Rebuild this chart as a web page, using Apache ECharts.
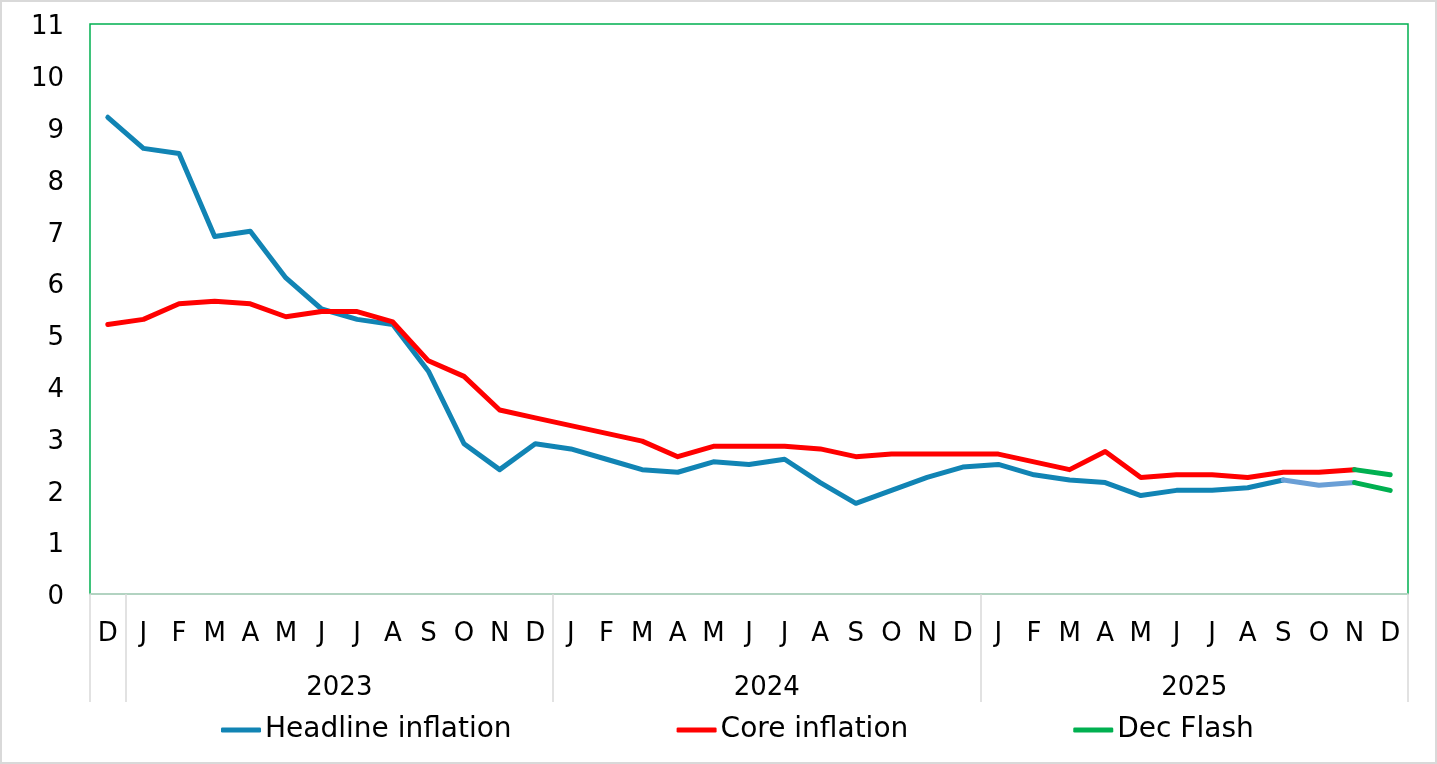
<!DOCTYPE html>
<html>
<head>
<meta charset="utf-8">
<script src="https://cdn.jsdelivr.net/npm/echarts@6/dist/echarts.min.js"></script>
<style>
html,body{margin:0;padding:0;background:#fff;}
#wrap{position:absolute;left:0;top:0;width:1437px;height:764px;box-sizing:border-box;border:2px solid #D9D9D9;}
#chart{position:absolute;left:0;top:0;width:1437px;height:764px;}
</style>
</head>
<body>
<div id="chart"></div>
<div id="wrap"></div>
<script>
// Category labels (Dec 2022 .. Dec 2025)
const months = ['D','J','F','M','A','M','J','J','A','S','O','N','D',
                'J','F','M','A','M','J','J','A','S','O','N','D',
                'J','F','M','A','M','J','J','A','S','O','N','D'];
const yearLabels = ['', '2023', '2024', '2025'];
const yearMonthCounts = [1, 12, 12, 12];

// Headline inflation (Dec 2022 .. Nov 2025)
const headline = [9.2, 8.6, 8.5, 6.9, 7.0, 6.1, 5.5, 5.3, 5.2, 4.3, 2.9, 2.4, 2.9,
                  2.8, 2.6, 2.4, 2.35, 2.55, 2.5, 2.6, 2.15, 1.75, 2.0, 2.25, 2.45,
                  2.5, 2.3, 2.2, 2.15, 1.9, 2.0, 2.0, 2.05, 2.2, 2.1, 2.15];
// Core inflation (Dec 2022 .. Nov 2025)
const core = [5.2, 5.3, 5.6, 5.65, 5.6, 5.35, 5.45, 5.45, 5.25, 4.5, 4.2, 3.55, 3.4,
              3.25, 3.1, 2.95, 2.65, 2.85, 2.85, 2.85, 2.8, 2.65, 2.7, 2.7, 2.7,
              2.7, 2.55, 2.4, 2.75, 2.25, 2.3, 2.3, 2.25, 2.35, 2.35, 2.4];
// Dec 2025 flash estimates
const flashHeadline = 2.0;
const flashCore = 2.3;
// Index where the headline line changes to the lighter shade (Sep 2025)
const lightStartIndex = 33;

const yTicks = [0,1,2,3,4,5,6,7,8,9,10,11];

const FONT = 'DejaVu Sans';
const FS = 26;
const n = months.length;
const lastIdx = headline.length - 1;

const headMain = headline.map((v, i) => i <= lightStartIndex ? v : null);
const headLight = headline.map((v, i) => i >= lightStartIndex ? v : null);
const flashH = months.map((_, i) => i === lastIdx ? headline[lastIdx] : (i === lastIdx + 1 ? flashHeadline : null));
const flashC = months.map((_, i) => i === lastIdx ? core[lastIdx] : (i === lastIdx + 1 ? flashCore : null));

// Year group boundaries and centers on a 0..n value scale
const bounds = [0];
yearMonthCounts.forEach(c => bounds.push(bounds[bounds.length - 1] + c));
const centers = [];
const centerLabel = {};
yearLabels.forEach((lab, i) => {
  if (lab) { const c = (bounds[i] + bounds[i + 1]) / 2; centers.push(c); centerLabel[c] = lab; }
});

const chart = echarts.init(document.getElementById('chart'), null, {renderer: 'canvas'});
const lw = 5;
chart.setOption({
  animation: false,
  backgroundColor: '#fff',
  textStyle: {fontFamily: FONT},
  grid: {left: 90, right: 29, top: 24, bottom: 170, show: true, borderColor: '#00B050', borderWidth: 1.5, containLabel: false},
  legend: {
    bottom: 15, left: 216,
    itemGap: 165,
    itemWidth: 40, itemHeight: 5,
    icon: 'roundRect',
    textStyle: {fontFamily: FONT, fontSize: 28, color: '#000', padding: [0,0,0,-1]},
    data: [
      {name: 'Headline inflation', itemStyle: {color: '#1184B4'}},
      {name: 'Core inflation', itemStyle: {color: '#FF0000'}},
      {name: 'Dec Flash', itemStyle: {color: '#00B050'}}
    ]
  },
  xAxis: [
    {
      type: 'category', data: months, boundaryGap: true,
      axisLine: {show: true, lineStyle: {color: '#D9D9D9', width: 1.5}},
      axisTick: {show: false},
      splitLine: {show: false},
      axisLabel: {interval: 0, fontFamily: FONT, fontSize: FS, color: '#000', margin: 27}
    },
    {
      type: 'value', min: 0, max: n, position: 'bottom',
      axisLine: {show: false}, splitLine: {show: false},
      axisTick: {show: true, customValues: bounds, length: 108, inside: false, lineStyle: {color: '#D9D9D9', width: 1.5}},
      axisLabel: {show: true, customValues: centers, formatter: v => centerLabel[v] || '', fontFamily: FONT, fontSize: FS, color: '#000', margin: 81}
    }
  ],
  yAxis: {
    type: 'value', min: 0, max: 11, interval: 1,
    axisLine: {show: false}, axisTick: {show: false}, splitLine: {show: false},
    axisLabel: {fontFamily: FONT, fontSize: FS, color: '#000', margin: 26,
                formatter: v => yTicks.includes(v) ? '{t|' + v + '}' : '',
                rich: {t: {fontFamily: FONT, fontSize: FS, color: '#000', padding: [7,0,0,0]}}}
  },
  series: [
    {name: 'Headline inflation', type: 'line', data: headMain, xAxisIndex: 0, showSymbol: false, symbol: 'none',
     lineStyle: {color: '#1184B4', width: lw, cap: 'round', join: 'round'}, itemStyle: {color: '#1184B4'}, z: 3},
    {name: 'Headline inflation ', type: 'line', data: headLight, xAxisIndex: 0, showSymbol: false, symbol: 'none',
     lineStyle: {color: '#6A9FD6', width: lw, cap: 'round', join: 'round'}, itemStyle: {color: '#6A9FD6'}, z: 3},
    {name: 'Core inflation', type: 'line', data: core, xAxisIndex: 0, showSymbol: false, symbol: 'none',
     lineStyle: {color: '#FF0000', width: lw, cap: 'round', join: 'round'}, itemStyle: {color: '#FF0000'}, z: 4},
    {name: 'Dec Flash', type: 'line', data: flashH, xAxisIndex: 0, showSymbol: false, symbol: 'none',
     lineStyle: {color: '#00B050', width: lw, cap: 'round', join: 'round'}, itemStyle: {color: '#00B050'}, z: 5},
    {name: 'Dec Flash', type: 'line', data: flashC, xAxisIndex: 0, showSymbol: false, symbol: 'none',
     lineStyle: {color: '#00B050', width: lw, cap: 'round', join: 'round'}, itemStyle: {color: '#00B050'}, z: 5}
  ]
});
</script>
</body>
</html>
